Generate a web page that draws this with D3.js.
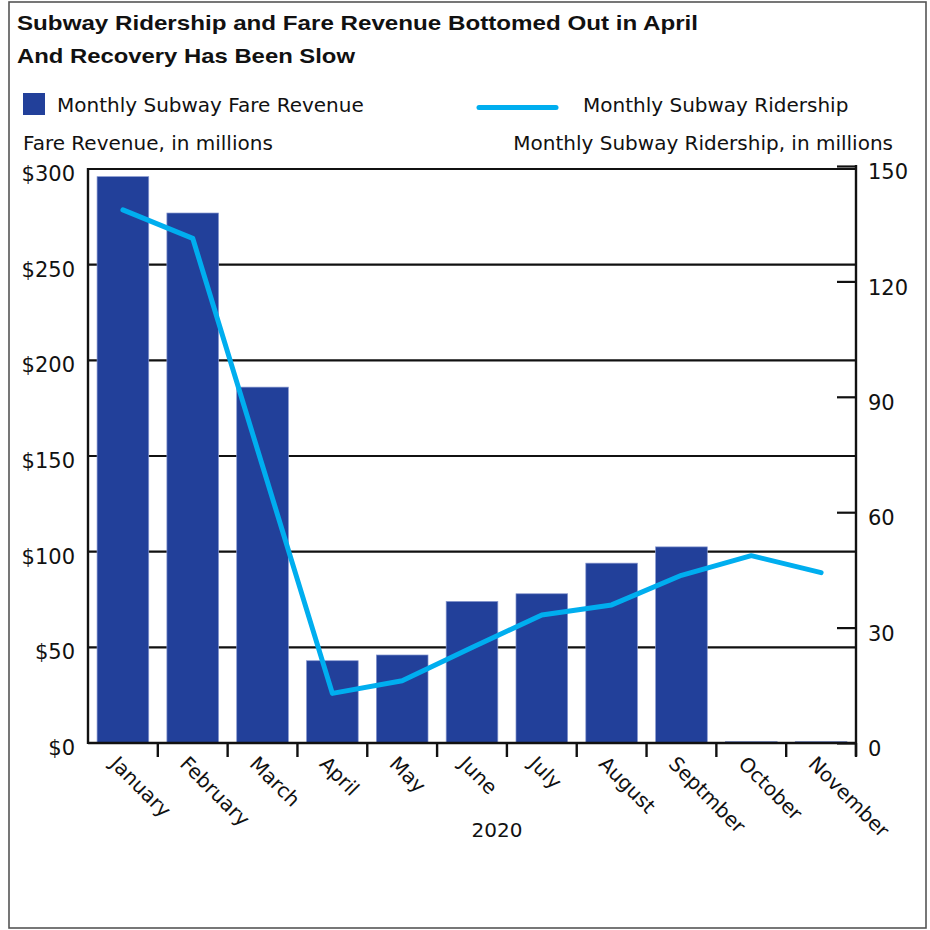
<!DOCTYPE html>
<html>
<head>
<meta charset="utf-8">
<script src="https://cdn.jsdelivr.net/npm/d3@7"></script>
<style>
  body { margin: 0; background: #fff; }
  text { font-family: "DejaVu Sans", "Open Sans", sans-serif; fill: #111; }
</style>
</head>
<body>
<svg class="combo-chart"></svg>
<script>
// Chart data
var months = ["January", "February", "March", "April", "May", "June", "July", "August", "Septmber", "October", "November"];
var fareRevenue = [296, 277, 186, 43, 46, 74, 78, 94, 102.5, 0.8, 0.8];      // $ millions
var ridership = [138.6, 131.2, 72, 12.9, 16.2, 24.8, 33.3, 35.9, 43.6, 48.7, 44.3]; // millions
var revenueTicks = [0, 50, 100, 150, 200, 250, 300];
var ridershipTicks = [0, 30, 60, 90, 120, 150];

var width = 930, height = 930;
var plotLeft = 88, plotRight = 856, plotTop = 169, plotBottom = 743;

var barColor = "#22409a";
var lineColor = "#00aeef";
var fontSize = "20px";

var svg = d3.select(".combo-chart")
    .attr("width", width)
    .attr("height", height);

var rows = months.map(function(m, i) {
    return { month: m, revenue: fareRevenue[i], riders: ridership[i] };
});

// Scales
var x = d3.scaleBand()
    .domain(months)
    .range([plotLeft, plotRight])
    .paddingInner(0.26)
    .paddingOuter(0.13);

var yLeft = d3.scaleLinear().domain([0, 300]).range([plotBottom, plotTop]);
var yRight = d3.scaleLinear().domain([0, 150]).range([plotBottom, plotTop - 3]);

// Outer frame
svg.append("rect")
    .attr("x", 9).attr("y", 2)
    .attr("width", 917).attr("height", 926)
    .style("fill", "none")
    .style("stroke", "#555")
    .style("stroke-width", 1.6);

// Title (two lines)
var title = svg.append("g").style("font-weight", "bold");
title.append("text")
    .attr("x", 17).attr("y", 30)
    .attr("textLength", 681).attr("lengthAdjust", "spacingAndGlyphs")
    .style("font-family", "'Liberation Sans', Arial, sans-serif")
    .style("font-size", "21px")
    .text("Subway Ridership and Fare Revenue Bottomed Out in April");
title.append("text")
    .attr("x", 17).attr("y", 62.5)
    .attr("textLength", 338).attr("lengthAdjust", "spacingAndGlyphs")
    .style("font-family", "'Liberation Sans', Arial, sans-serif")
    .style("font-size", "21px")
    .text("And Recovery Has Been Slow");

// Legend
svg.append("rect")
    .attr("x", 23).attr("y", 93)
    .attr("width", 22).attr("height", 22)
    .style("fill", barColor);
svg.append("text")
    .attr("x", 57).attr("y", 111.5)
    .style("font-size", fontSize)
    .text("Monthly Subway Fare Revenue");
svg.append("line")
    .attr("x1", 479).attr("x2", 556)
    .attr("y1", 107.5).attr("y2", 107.5)
    .style("stroke", lineColor)
    .style("stroke-width", 5)
    .style("stroke-linecap", "round");
svg.append("text")
    .attr("x", 583).attr("y", 111.5)
    .style("font-size", fontSize)
    .text("Monthly Subway Ridership");

// Axis titles
svg.append("text")
    .attr("x", 23).attr("y", 150)
    .style("font-size", fontSize)
    .text("Fare Revenue, in millions");
svg.append("text")
    .attr("x", 893).attr("y", 150)
    .attr("text-anchor", "end")
    .style("font-size", fontSize)
    .text("Monthly Subway Ridership, in millions");

// Horizontal gridlines
svg.selectAll(".grid")
    .data(revenueTicks.slice(1))
    .enter().append("line")
    .attr("class", "grid")
    .attr("x1", plotLeft).attr("x2", plotRight)
    .attr("y1", function(d) { return yLeft(d); })
    .attr("y2", function(d) { return yLeft(d); })
    .style("stroke", "#111")
    .style("stroke-width", 2.2);

// Bars
svg.selectAll(".bar")
    .data(rows)
    .enter().append("rect")
    .attr("class", "bar")
    .attr("x", function(d) { return x(d.month); })
    .attr("y", function(d) { return yLeft(d.revenue); })
    .attr("width", x.bandwidth())
    .attr("height", function(d) { return plotBottom - yLeft(d.revenue); })
    .style("fill", barColor)
    .style("stroke", "#8797cf")
    .style("stroke-width", 0.7);

// Ridership line
var line = d3.line()
    .x(function(d) { return x(d.month) + x.bandwidth() / 2; })
    .y(function(d) { return yRight(d.riders); });

svg.append("path")
    .datum(rows)
    .attr("d", line)
    .style("fill", "none")
    .style("stroke", lineColor)
    .style("stroke-width", 5)
    .style("stroke-linejoin", "round")
    .style("stroke-linecap", "round");

// Left axis (labels only, line drawn separately)
var leftAxis = svg.append("g")
    .attr("transform", "translate(" + plotLeft + ",0)")
    .call(d3.axisLeft(yLeft).tickValues(revenueTicks).tickSize(0).tickPadding(13)
        .tickFormat(function(d) { return "$" + d; }));
leftAxis.select(".domain").remove();
leftAxis.selectAll("text")
    .attr("dy", "0.55em")
    .style("font-size", "21px")
    .style("font-family", "'DejaVu Sans', sans-serif")
    .style("fill", "#111");

// Right axis with inward ticks
var rightAxis = svg.append("g")
    .attr("transform", "translate(" + plotRight + ",0)")
    .call(d3.axisRight(yRight).tickValues(ridershipTicks).tickSize(-19).tickPadding(12));
rightAxis.select(".domain").remove();
rightAxis.selectAll(".tick line").style("stroke", "#111").style("stroke-width", 2.2);
rightAxis.selectAll("text")
    .attr("dy", "0.6em")
    .style("font-size", "21px")
    .style("font-family", "'DejaVu Sans', sans-serif")
    .style("fill", "#111");

// Axis lines
svg.append("line")
    .attr("x1", plotLeft).attr("x2", plotLeft).attr("y1", plotTop - 1).attr("y2", plotBottom + 1)
    .style("stroke", "#111").style("stroke-width", 2.4);
svg.append("line")
    .attr("x1", plotRight).attr("x2", plotRight).attr("y1", yRight(150) - 1).attr("y2", plotBottom + 13)
    .style("stroke", "#111").style("stroke-width", 2.4);
svg.append("line")
    .attr("x1", plotLeft).attr("x2", plotRight).attr("y1", plotBottom).attr("y2", plotBottom)
    .style("stroke", "#111").style("stroke-width", 2.4);

// X ticks between months
var step = x.step();
svg.selectAll(".x-tick")
    .data(months)
    .enter().append("line")
    .attr("class", "x-tick")
    .attr("x1", function(d) { return x(d) + x.bandwidth() + step * x.paddingInner() / 2; })
    .attr("x2", function(d) { return x(d) + x.bandwidth() + step * x.paddingInner() / 2; })
    .attr("y1", plotBottom)
    .attr("y2", plotBottom + 14)
    .style("stroke", "#111")
    .style("stroke-width", 2.4);

// Month labels rotated 45 degrees
svg.selectAll(".month-label")
    .data(months)
    .enter().append("text")
    .attr("class", "month-label")
    .attr("x", function(d) { return x(d) + x.bandwidth() / 2 - 9; })
    .attr("y", plotBottom + 17)
    .attr("dy", "0.35em")
    .attr("transform", function(d) {
        return "rotate(45 " + (x(d) + x.bandwidth() / 2 - 9) + "," + (plotBottom + 17) + ")";
    })
    .style("font-size", fontSize)
    .text(function(d) { return d; });

// Year label
svg.append("text")
    .attr("x", 497).attr("y", 837)
    .attr("text-anchor", "middle")
    .style("font-size", fontSize)
    .text("2020");
</script>
</body>
</html>
